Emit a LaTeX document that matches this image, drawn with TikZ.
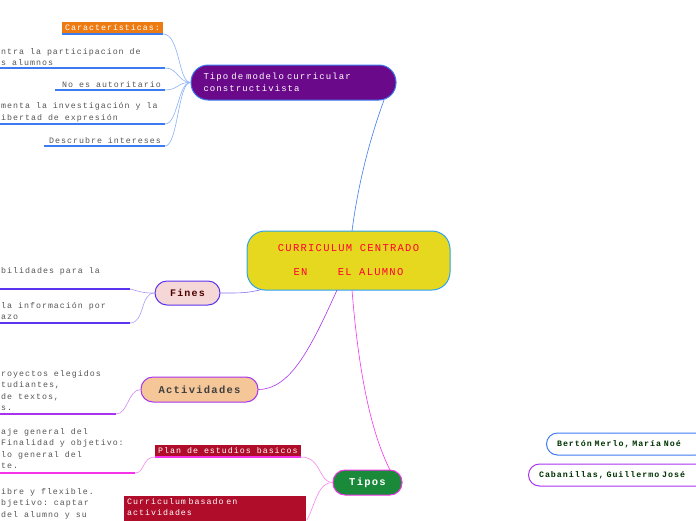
\documentclass[tikz,border=0pt]{standalone}
\usepackage{fontspec}
\setmonofont[LetterSpace=12]{Liberation Mono}
\definecolor{yellowc}{HTML}{E5D81E}
\definecolor{bluec}{HTML}{3D7BF0}
\definecolor{purplec}{HTML}{6A0A8A}
\definecolor{orangec}{HTML}{EE7A12}
\definecolor{violetc}{HTML}{5A33EE}
\definecolor{lilac}{HTML}{AA33EE}
\definecolor{magentac}{HTML}{F533E8}
\definecolor{redc}{HTML}{B00D2A}
\definecolor{greenc}{HTML}{1A8A3A}
\definecolor{textc}{HTML}{555555}
\tikzset{
  topic/.style={rounded corners=12pt, line width=1pt, inner sep=0pt, font=\ttfamily\fontsize{10}{12}\selectfont},
  leaf/.style={anchor=south west, inner sep=1pt, align=left, text=textc, font=\ttfamily\fontsize{8.3}{11.5}\selectfont},
  tagbox/.style={anchor=south west, inner sep=3pt, align=left, text=white, font=\ttfamily\fontsize{8.3}{11}\selectfont},
  link/.style={line width=0.6pt}
}
\begin{document}
\begin{tikzpicture}[x=1pt, y=-1pt]
\useasboundingbox (0,0) rectangle (696,520);
\clip (0,0) rectangle (696,520);
% central topic
\node[topic, fill=yellowc, draw=bluec!70!cyan, minimum width=203pt, minimum height=59pt, rounded corners=18pt,
  text=red!80!magenta, align=center, font=\ttfamily\fontsize{10.5}{24}\selectfont] (center) at (348.5,260.5)
  {CURRICULUM CENTRADO\\EN\ \ \ \ EL ALUMNO};
% main topics
\node[topic, fill=purplec, draw=bluec, text=white, minimum width=205pt, minimum height=35pt, rounded corners=17pt,
  align=left, text width=180pt, font=\ttfamily\fontsize{9}{12}\selectfont] (modelo) at (293.5,82.5) {Tipo de modelo curricular\\constructivista};
\node[topic, fill=red!15!pink!80!gray!40, draw=violetc, text=black!70!red, minimum width=65pt, minimum height=24pt,
  font=\ttfamily\bfseries\fontsize{10}{12}\selectfont] (fines) at (187.5,293) {Fines};
\node[topic, fill=brown!40!orange!45, draw=lilac, text=black!75, minimum width=117pt, minimum height=25pt,
  font=\ttfamily\bfseries\fontsize{10.5}{12}\selectfont] (activ) at (199.5,389.5) {Actividades};
\node[topic, fill=greenc, draw=magentac, text=white, minimum width=69pt, minimum height=25pt,
  font=\ttfamily\bfseries\fontsize{10.5}{12}\selectfont] (tipos) at (367.5,482.5) {Tipos};
\node[topic, fill=white, draw=bluec, text=green!20!black, minimum width=160pt, minimum height=22pt, rounded corners=11pt,
  font=\ttfamily\bfseries\fontsize{8.3}{11}\selectfont, anchor=west, text width=150pt, align=left] (berton) at (546,444) {\ \ Bertón Merlo, María Noé};
\node[topic, fill=white, draw=lilac, text=green!20!black, minimum width=180pt, minimum height=22pt, rounded corners=11pt,
  font=\ttfamily\bfseries\fontsize{8.3}{11}\selectfont, anchor=west, text width=170pt, align=left] (cabani) at (528,475) {\ \ Cabanillas, Guillermo José};
% branches from the centre
\coordinate (cmod) at (352,231);
\coordinate (tmod) at (384,100);
\draw[link, bluec] (cmod) .. controls (360,170) and (375,125) .. (tmod);
\coordinate (cfines) at (260,290);
\draw[link, violetc!70] (cfines) .. controls (245,293) .. (fines.east);
\coordinate (cact) at (337,290);
\draw[link, lilac] (cact) .. controls (310,350) and (290,389) .. (activ.east);
\coordinate (ctip) at (352,290);
\coordinate (ttip) at (390,470);
\draw[link, magentac] (ctip) .. controls (360,390) and (375,440) .. (ttip);
% Tipo de modelo: leaves
\node[tagbox, fill=orangec] (carac) at (62,34) {Características:};
\draw[bluec, line width=1.5pt] (carac.south west) -- (carac.south east);
\node[leaf] (l1) at (0,67) {ntra la participacion de\\s alumnos};
\coordinate (e1) at (165,68);
\draw[bluec, line width=1.5pt] (0,68) -- (e1);
\node[leaf, anchor=south east] (l2) at (162,89) {No es autoritario};
\coordinate (e2) at (165,90);
\draw[bluec, line width=1.5pt] (55,90) -- (e2);
\node[leaf] (l3) at (0,123) {menta la investigación y la\\ibertad de expresión};
\coordinate (e3) at (165,124);
\draw[bluec, line width=1.5pt] (0,124) -- (e3);
\node[leaf, anchor=south east] (l4) at (162,145) {Descrubre intereses};
\coordinate (e4) at (165,146);
\draw[bluec, line width=1.5pt] (44,146) -- (e4);
\coordinate (bend) at (178,0);
\foreach \e in {e1, e2, e3, e4}
  \draw[link, bluec!60] (modelo.west) .. controls (178,82) and (bend |- \e) .. (\e);
\draw[link, bluec!60] (modelo.west) .. controls (178,82) and (180,34) .. (carac.south east);
% Fines: leaves
\node[leaf] (f1) at (0,276) {bilidades para la};
\coordinate (g1) at (130,289);
\draw[violetc, line width=1.5pt] (0,289) -- (g1);
\node[leaf] (f2) at (0,321) {la información por\\azo};
\coordinate (g2) at (130,323);
\draw[violetc, line width=1.5pt] (0,323) -- (g2);
\draw[link, violetc!50] (fines.west) .. controls (145,293) .. (g1);
\draw[link, violetc!50] (fines.west) .. controls (140,293) and (145,323) .. (g2);
% Actividades: leaves
\node[leaf] (a1) at (0,412) {royectos elegidos\\tudiantes,\\de textos,\\s.};
\coordinate (h1) at (116,414);
\draw[lilac, line width=1.5pt] (0,414) -- (h1);
\draw[link, lilac!60] (activ.west) .. controls (128,390) and (128,414) .. (h1);
% Tipos: leaves
\node[tagbox, fill=redc] (plan) at (155,457) {Plan de estudios basicos};
\draw[magentac, line width=1.5pt] (plan.south west) -- (plan.south east);
\node[tagbox, fill=redc, text width=176pt] (basado) at (124,530) {Curriculum basado en\\actividades\\\ };
\node[leaf] (t1) at (0,470) {aje general del\\Finalidad y objetivo:\\lo general del\\te.};
\coordinate (k1) at (135,473);
\draw[magentac, line width=1.5pt] (0,473) -- (k1);
\node[leaf] (t2) at (0,530) {ibre y flexible.\\bjetivo: captar\\del alumno y su\\ };
\coordinate (k2) at (307,520);
\draw[link, magentac!60] (tipos.west) .. controls (318,482) and (322,457) .. (plan.south east);
\draw[link, magentac!60] (tipos.west) .. controls (318,482) and (315,505) .. (k2);
\draw[link, magentac!60] (plan.south west) .. controls (142,457) and (145,473) .. (k1);
\end{tikzpicture}
\end{document}
